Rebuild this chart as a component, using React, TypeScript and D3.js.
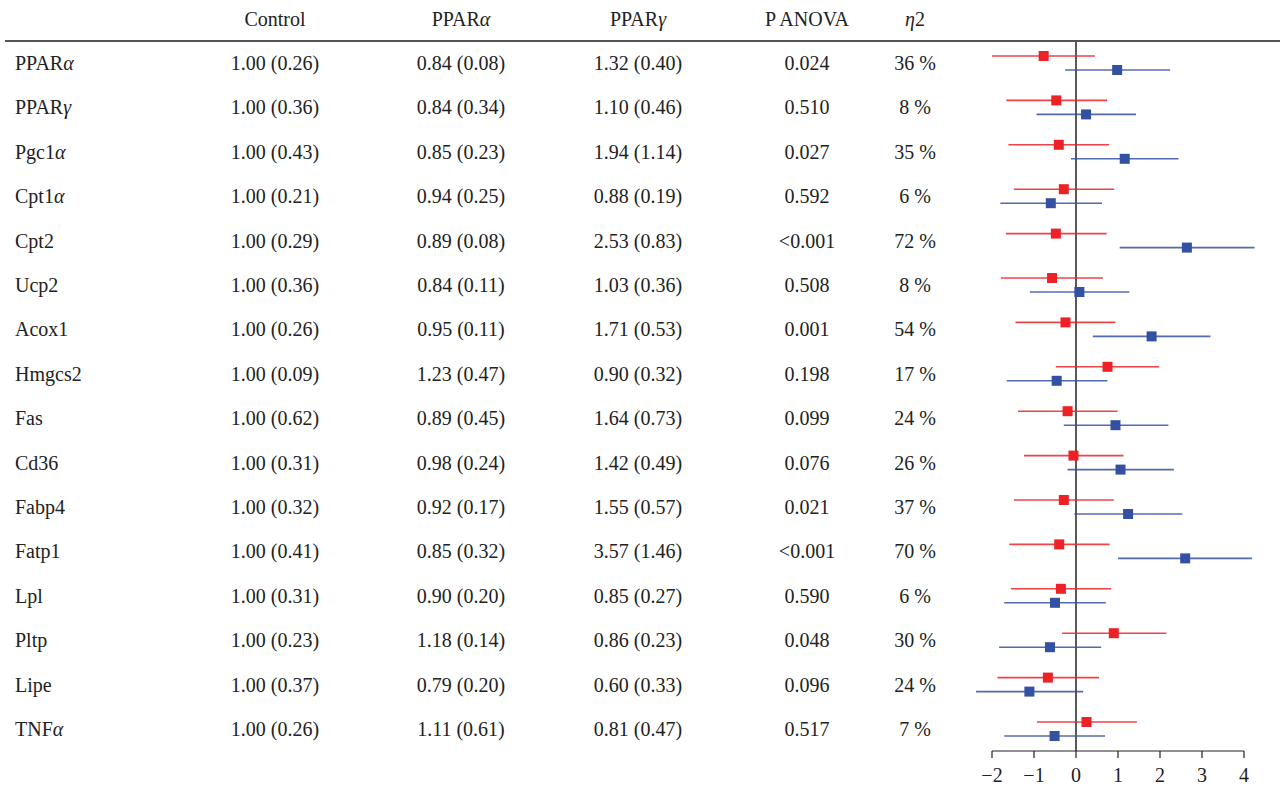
import * as d3 from "d3";
import React from "react";

// table columns
const genes = ["PPARα", "PPARγ", "Pgc1α", "Cpt1α", "Cpt2", "Ucp2", "Acox1", "Hmgcs2", "Fas", "Cd36", "Fabp4", "Fatp1", "Lpl", "Pltp", "Lipe", "TNFα"];
const control = ["1.00 (0.26)", "1.00 (0.36)", "1.00 (0.43)", "1.00 (0.21)", "1.00 (0.29)", "1.00 (0.36)", "1.00 (0.26)", "1.00 (0.09)", "1.00 (0.62)", "1.00 (0.31)", "1.00 (0.32)", "1.00 (0.41)", "1.00 (0.31)", "1.00 (0.23)", "1.00 (0.37)", "1.00 (0.26)"];
const pparA = ["0.84 (0.08)", "0.84 (0.34)", "0.85 (0.23)", "0.94 (0.25)", "0.89 (0.08)", "0.84 (0.11)", "0.95 (0.11)", "1.23 (0.47)", "0.89 (0.45)", "0.98 (0.24)", "0.92 (0.17)", "0.85 (0.32)", "0.90 (0.20)", "1.18 (0.14)", "0.79 (0.20)", "1.11 (0.61)"];
const pparG = ["1.32 (0.40)", "1.10 (0.46)", "1.94 (1.14)", "0.88 (0.19)", "2.53 (0.83)", "1.03 (0.36)", "1.71 (0.53)", "0.90 (0.32)", "1.64 (0.73)", "1.42 (0.49)", "1.55 (0.57)", "3.57 (1.46)", "0.85 (0.27)", "0.86 (0.23)", "0.60 (0.33)", "0.81 (0.47)"];
const pAnova = ["0.024", "0.510", "0.027", "0.592", "<0.001", "0.508", "0.001", "0.198", "0.099", "0.076", "0.021", "<0.001", "0.590", "0.048", "0.096", "0.517"];
const eta2 = ["36 %", "8 %", "35 %", "6 %", "72 %", "8 %", "54 %", "17 %", "24 %", "26 %", "37 %", "70 %", "6 %", "30 %", "24 %", "7 %"];

// forest plot: effect (lo, est, hi) for PPARα (red) and PPARγ (blue)
const redEst = [-0.77, -0.47, -0.41, -0.29, -0.48, -0.57, -0.25, 0.75, -0.2, -0.06, -0.29, -0.4, -0.36, 0.9, -0.67, 0.25];
const redLo = [-2.0, -1.66, -1.61, -1.48, -1.67, -1.79, -1.44, -0.48, -1.38, -1.24, -1.48, -1.59, -1.55, -0.33, -1.87, -0.93];
const redHi = [0.45, 0.74, 0.79, 0.91, 0.73, 0.64, 0.94, 1.98, 0.99, 1.13, 0.9, 0.8, 0.84, 2.15, 0.55, 1.45];
const blueEst = [0.98, 0.24, 1.16, -0.6, 2.64, 0.08, 1.8, -0.46, 0.94, 1.06, 1.24, 2.6, -0.5, -0.62, -1.11, -0.51];
const blueLo = [-0.26, -0.94, -0.12, -1.8, 1.04, -1.1, 0.4, -1.65, -0.29, -0.2, -0.04, 1.0, -1.71, -1.83, -2.38, -1.71];
const blueHi = [2.24, 1.43, 2.44, 0.62, 4.25, 1.27, 3.2, 0.75, 2.2, 2.33, 2.53, 4.19, 0.71, 0.6, 0.17, 0.69];
const xTicks = [-2, -1, 0, 1, 2, 3, 4];

const W = 1280;
const H = 786;
const FONT = "'Liberation Serif', 'DejaVu Serif', serif";
const RED = "#ec2227";
const BLUE = "#3450a2";

// render greek letters in italics
function Label({ text }: { text: string }) {
  const parts = text.split(/([α-ω])/).filter((s) => s !== "");
  return (
    <>
      {parts.map((p, i) =>
        /[α-ω]/.test(p) ? (
          <tspan key={i} fontStyle="italic">{p}</tspan>
        ) : (
          <tspan key={i}>{p}</tspan>
        )
      )}
    </>
  );
}

export default function App() {
  const y = d3.scalePoint<string>().domain(genes).range([63, 729]);
  const x = d3.scaleLinear().domain([-2, 4]).range([992, 1244]);
  const axisY = 751;
  const off = 7;
  const sq = 10;

  const cols = [
    { cx: 275, head: "Control", vals: control },
    { cx: 461, head: "PPARα", vals: pparA },
    { cx: 638, head: "PPARγ", vals: pparG },
    { cx: 807, head: "P ANOVA", vals: pAnova },
    { cx: 915, head: "η2", vals: eta2 },
  ];

  const series = [
    { color: RED, est: redEst, lo: redLo, hi: redHi, dy: -off },
    { color: BLUE, est: blueEst, lo: blueLo, hi: blueHi, dy: off },
  ];

  return (
    <svg width={W} height={H} style={{ position: "absolute", left: 0, top: 0, background: "#fff" }} fontFamily={FONT} fontSize={20}>
      {/* header */}
      {cols.map((c) => (
        <text key={c.head} x={c.cx} y={19} dy="0.35em" textAnchor="middle" fill="#222">
          <Label text={c.head} />
        </text>
      ))}
      <line x1={5} x2={W} y1={41} y2={41} stroke="#555" strokeWidth={2} />

      {/* table body */}
      {genes.map((g, i) => (
        <g key={g}>
          <text x={15} y={y(g)} dy="0.35em" fill="#222">
            <Label text={g} />
          </text>
          {cols.map((c) => (
            <text key={c.head} x={c.cx} y={y(g)} dy="0.35em" textAnchor="middle" fill="#222">
              {c.vals[i]}
            </text>
          ))}
        </g>
      ))}

      {/* forest plot */}
      <line x1={x(0)} x2={x(0)} y1={42} y2={axisY} stroke="#222" strokeWidth={1.5} />
      {series.map((s) =>
        genes.map((g, i) => {
          const yy = (y(g) as number) + s.dy;
          return (
            <g key={s.color + g}>
              <line x1={x(s.lo[i])} x2={x(s.hi[i])} y1={yy} y2={yy} stroke={s.color} strokeWidth={1.6} strokeOpacity={0.85} />
              <rect x={x(s.est[i]) - sq / 2} y={yy - sq / 2} width={sq} height={sq} fill={s.color} />
            </g>
          );
        })
      )}

      {/* x axis */}
      <line x1={x(-2)} x2={x(4)} y1={axisY} y2={axisY} stroke="#222" strokeWidth={1.2} />
      {xTicks.map((t) => (
        <g key={t}>
          <line x1={x(t)} x2={x(t)} y1={axisY} y2={axisY + 7} stroke="#222" strokeWidth={1.2} />
          <text x={x(t)} y={axisY + 24} dy="0.35em" textAnchor="middle" fill="#222">
            {t < 0 ? "−" + Math.abs(t) : String(t)}
          </text>
        </g>
      ))}
    </svg>
  );
}
